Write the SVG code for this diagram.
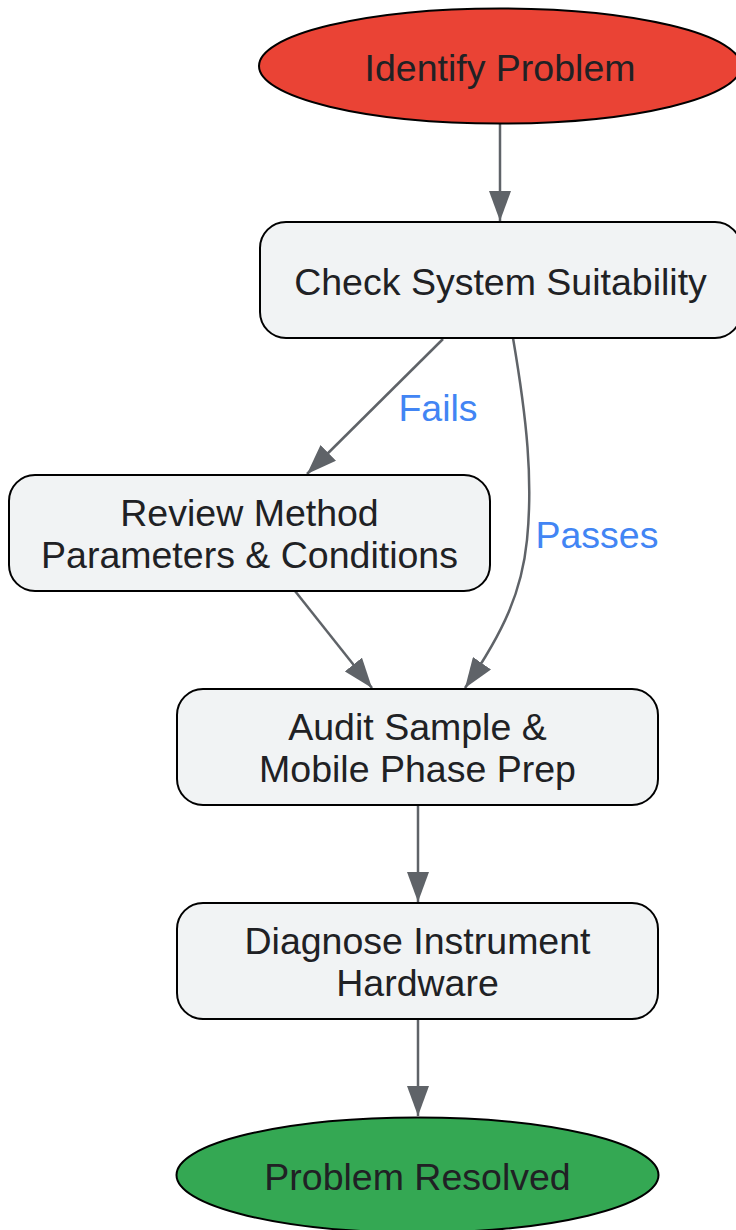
<svg xmlns="http://www.w3.org/2000/svg" width="736" height="1230" viewBox="0 0 736 1230">
<defs>
<style>
.node{fill:#F1F3F4;stroke:#000;stroke-width:2}
.t{font-family:"Liberation Sans",Arial,sans-serif;font-size:37.5px;fill:#202124;text-anchor:middle}
.lbl{font-family:"Liberation Sans",Arial,sans-serif;font-size:37.5px;fill:#4285F4;text-anchor:middle}
.e{fill:none;stroke:#5F6368;stroke-width:2.5}
</style>
<marker id="ah" markerUnits="userSpaceOnUse" markerWidth="30" markerHeight="22" refX="30" refY="11" orient="auto">
<path d="M0,0 L30,11 L0,22 z" fill="#5F6368"/>
</marker>
</defs>
<rect width="736" height="1230" fill="#fff"/>
<g id="connectors">
<path class="e" d="M500,124 L500,221" marker-end="url(#ah)"/>
<path class="e" d="M443,339 L307,474" marker-end="url(#ah)"/>
<path class="e" d="M513,338 C527,420 533,480 527,540 C522,590 505,630 465,688" marker-end="url(#ah)"/>
<path class="e" d="M295,591 L372,688" marker-end="url(#ah)"/>
<path class="e" d="M418,805 L418,902" marker-end="url(#ah)"/>
<path class="e" d="M418,1019 L418,1116" marker-end="url(#ah)"/>
<text class="lbl" x="438" y="421">Fails</text>
<text class="lbl" x="597" y="548">Passes</text>
</g>
<g id="identify">
<ellipse cx="500" cy="66" rx="241" ry="57.5" fill="#EA4335" stroke="#000" stroke-width="2"/>
<text class="t" x="500" y="81">Identify Problem</text>
</g>
<g id="check">
<rect class="node" x="260" y="222" width="481" height="116" rx="26"/>
<text class="t" x="500.5" y="295">Check System Suitability</text>
</g>
<g id="review">
<rect class="node" x="9" y="475" width="481" height="116" rx="26"/>
<text class="t" x="249.5" y="526">Review Method</text>
<text class="t" x="249.5" y="568">Parameters &amp; Conditions</text>
</g>
<g id="audit">
<rect class="node" x="177" y="689" width="481" height="116" rx="26"/>
<text class="t" x="417.5" y="740">Audit Sample &amp;</text>
<text class="t" x="417.5" y="782">Mobile Phase Prep</text>
</g>
<g id="diagnose">
<rect class="node" x="177" y="903" width="481" height="116" rx="26"/>
<text class="t" x="417.5" y="954">Diagnose Instrument</text>
<text class="t" x="417.5" y="996">Hardware</text>
</g>
<g id="resolved">
<ellipse cx="417.5" cy="1175" rx="241" ry="57.5" fill="#34A853" stroke="#000" stroke-width="2"/>
<text class="t" x="417.5" y="1190">Problem Resolved</text>
</g>
</svg>
